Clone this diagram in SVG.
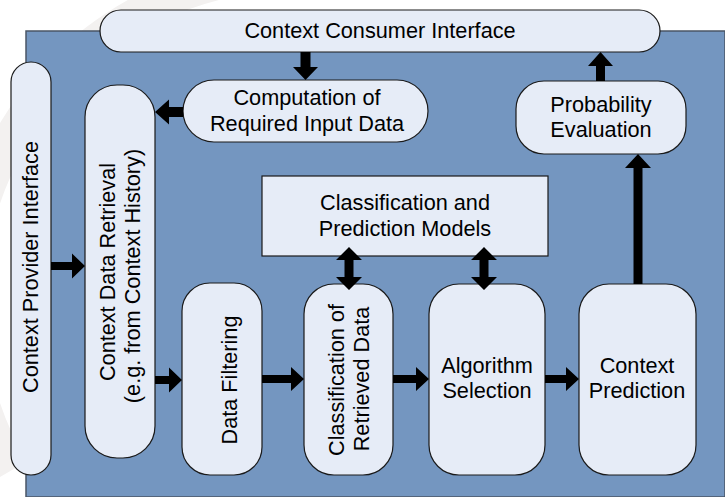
<svg xmlns="http://www.w3.org/2000/svg" width="725" height="497" viewBox="0 0 725 497">
  <style>
    .box { fill: #e6ecf7; stroke: #1a1a1a; stroke-width: 1.2; }
    .lbl { font-family: "Liberation Sans", Arial, sans-serif; font-size: 21.7px; fill: #000; text-anchor: middle; }
    .arr { fill: #000; }
  </style>
  <rect width="725" height="497" fill="#ffffff"/>
  <!-- faint background decoration -->
  <g fill="none" stroke="#f3f1f0" stroke-width="34">
    <path d="M 12 470 A 330 330 0 0 1 230 -20"/>
  </g>
  <!-- blue panel -->
  <path d="M 26 497 L 26 31 L 725 31 L 725 497 Z" fill="#7496c0" stroke="#4a5566" stroke-width="1.5"/>

  <g id="consumer-interface">
    <rect class="box" x="100" y="10" width="560" height="42" rx="21"/>
    <text class="lbl" x="380" y="38">Context Consumer Interface</text>
  </g>
  <g id="provider-interface">
    <rect class="box" x="11" y="62" width="40" height="413" rx="20"/>
    <text class="lbl" transform="rotate(-90)" x="-267" y="38">Context Provider Interface</text>
  </g>
  <g id="data-retrieval">
    <rect class="box" x="85" y="85" width="70" height="373" rx="32"/>
    <text class="lbl" transform="rotate(-90)" x="-272" y="115">Context Data Retrieval</text>
    <text class="lbl" transform="rotate(-90)" x="-276" y="140">(e.g. from Context History)</text>
  </g>
  <g id="computation">
    <rect class="box" x="183" y="80" width="245" height="62" rx="31"/>
    <text class="lbl" x="307" y="105">Computation of</text>
    <text class="lbl" x="307" y="131">Required Input Data</text>
  </g>
  <g id="probability-evaluation">
    <rect class="box" x="516" y="81" width="170" height="73" rx="28"/>
    <text class="lbl" x="601" y="112">Probability</text>
    <text class="lbl" x="601" y="137">Evaluation</text>
  </g>
  <g id="models">
    <rect class="box" x="262" y="176" width="286" height="80" rx="0"/>
    <text class="lbl" x="405" y="210">Classification and</text>
    <text class="lbl" x="405" y="236">Prediction Models</text>
  </g>
  <g id="data-filtering">
    <rect class="box" x="182" y="283" width="80" height="192" rx="28"/>
    <text class="lbl" transform="rotate(-90)" x="-380" y="237">Data Filtering</text>
  </g>
  <g id="classification">
    <rect class="box" x="304" y="284" width="89" height="191" rx="30"/>
    <text class="lbl" transform="rotate(-90)" x="-380" y="344">Classification of</text>
    <text class="lbl" transform="rotate(-90)" x="-379" y="369">Retrieved Data</text>
  </g>
  <g id="algorithm-selection">
    <rect class="box" x="429" y="284" width="116" height="191" rx="30"/>
    <text class="lbl" x="487" y="373">Algorithm</text>
    <text class="lbl" x="487" y="398">Selection</text>
  </g>
  <g id="context-prediction">
    <rect class="box" x="579" y="284" width="117" height="191" rx="30"/>
    <text class="lbl" x="637" y="373">Context</text>
    <text class="lbl" x="637" y="398">Prediction</text>
  </g>

  <g id="connectors" class="arr">
    <!-- consumer interface -> computation -->
    <polygon points="300.5,52 310.5,52 310.5,67 318,67 305.5,80 293,67 300.5,67"/>
    <!-- computation -> data retrieval -->
    <polygon points="183,107 169,107 169,99.5 155,112 169,124.5 169,117 183,117"/>
    <!-- provider interface -> data retrieval -->
    <polygon points="51,262 72,262 72,253.5 85,266 72,278.5 72,270 51,270"/>
    <!-- data retrieval -> data filtering -->
    <polygon points="155,376 169,376 169,367.5 182,380 169,392.5 169,384 155,384"/>
    <!-- data filtering -> classification -->
    <polygon points="262,375 291,375 291,367 304,379 291,391 291,383 262,383"/>
    <!-- classification -> algorithm selection -->
    <polygon points="393,375 416,375 416,367 429,379 416,391 416,383 393,383"/>
    <!-- algorithm selection -> context prediction -->
    <polygon points="545,375 566,375 566,367 579,379 566,391 566,383 545,383"/>
    <!-- context prediction -> probability evaluation -->
    <polygon points="633.5,284 633.5,168 625,168 638,154 651,168 642.5,168 642.5,284"/>
    <!-- probability evaluation -> consumer interface -->
    <polygon points="596,81 596,66 588,66 600.5,52 613,66 605,66 605,81"/>
    <!-- models <-> classification -->
    <polygon points="349,247 362,260 353.5,260 353.5,277 362,277 349,290 336,277 344.5,277 344.5,260 336,260"/>
    <!-- models <-> algorithm selection -->
    <polygon points="484,247 497,260 488.5,260 488.5,277 497,277 484,290 471,277 479.5,277 479.5,260 471,260"/>
  </g>
</svg>
